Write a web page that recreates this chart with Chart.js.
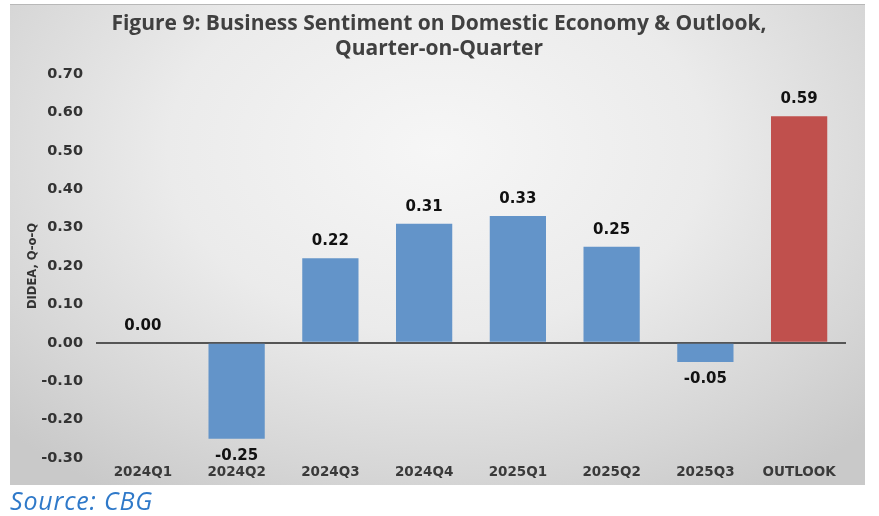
<!DOCTYPE html>
<html>
<head>
<meta charset="utf-8">
<script src="https://cdn.jsdelivr.net/npm/chart.js@4/dist/chart.umd.min.js"></script>
<style>
  html, body { margin: 0; padding: 0; background: #ffffff; width: 879px; height: 516px; overflow: hidden; }
  #panel {
    position: absolute; left: 10px; top: 4px; width: 855px; height: 481px;
    background: radial-gradient(ellipse 70% 85% at 50% 30%, #f6f6f6 0%, #ebebeb 45%, #d6d6d6 80%, #c9c9c9 100%);
    border-top: 1px solid #b8b8b8;
    box-sizing: border-box;
  }
  #title {
    position: absolute; left: 0; top: 5px; width: 858px; text-align: center;
    font-family: "Open Sans", sans-serif; font-weight: 700; font-size: 21px; line-height: 25px;
    color: #404040;
  }
  #chartbox { position: absolute; left: 0; top: 0; width: 855px; height: 481px; }
  #source {
    position: absolute; left: 10px; top: 483px;
    font-family: "Open Sans", sans-serif; font-style: italic; font-size: 25px; letter-spacing: 0.8px; color: #2f79c9;
  }
</style>
</head>
<body>
<div id="panel">
  <div id="chartbox"><canvas id="c" width="855" height="481"></canvas></div>
  <div id="title">Figure 9: Business Sentiment on Domestic Economy &amp; Outlook,<br>Quarter-on-Quarter</div>
</div>
<div id="source">Source: CBG</div>
<script>
const categories = ["2024Q1", "2024Q2", "2024Q3", "2024Q4", "2025Q1", "2025Q2", "2025Q3", "OUTLOOK"];
const values = [0.00, -0.25, 0.22, 0.31, 0.33, 0.25, -0.05, 0.59];
const barColors = ["#6394c9", "#6394c9", "#6394c9", "#6394c9", "#6394c9", "#6394c9", "#6394c9", "#c0504d"];
const yTitle = "DIDEA, Q-o-Q";
const yMin = -0.3, yMax = 0.7, yStep = 0.1;

const valueLabels = {
  id: 'valueLabels',
  afterDatasetsDraw(chart) {
    const ctx = chart.ctx;
    const meta = chart.getDatasetMeta(0);
    ctx.save();
    ctx.font = "bold 15px 'DejaVu Sans', sans-serif";
    ctx.fillStyle = "#111111";
    ctx.textAlign = "center";
    ctx.textBaseline = "middle";
    meta.data.forEach((bar, i) => {
      const v = values[i];
      const y = v >= 0 ? bar.y - 17 : bar.y + 17;
      ctx.fillText(v.toFixed(2), bar.x, y);
    });
    ctx.restore();
  }
};

new Chart(document.getElementById('c'), {
  type: 'bar',
  data: {
    labels: categories,
    datasets: [{
      data: values,
      backgroundColor: barColors,
      borderWidth: 0,
      categoryPercentage: 1.0,
      barPercentage: 0.6
    }]
  },
  options: {
    responsive: false,
    animation: false,
    layout: { padding: { top: 69, right: 19, left: 0, bottom: 0 } },
    plugins: { legend: { display: false }, tooltip: { enabled: false }, title: { display: false } },
    scales: {
      x: {
        grid: { display: false, drawTicks: false },
        border: { display: false },
        ticks: {
          color: "#3a3a3a",
          font: { family: "'DejaVu Sans', sans-serif", weight: 'bold', size: 13.5 },
          padding: 6,
          maxRotation: 0
        },
        afterFit(scale) { scale.height = 28; }
      },
      y: {
        min: yMin, max: yMax,
        grid: {
          drawTicks: false,
          color: (c) => (c.tick && Math.abs(c.tick.value) < 1e-9) ? "#555555" : "rgba(0,0,0,0)",
          lineWidth: (c) => (c.tick && Math.abs(c.tick.value) < 1e-9) ? 2 : 0
        },
        border: { display: false },
        ticks: {
          stepSize: yStep,
          color: "#333333",
          font: { family: "'DejaVu Sans', sans-serif", weight: 'bold', size: 14.5 },
          padding: 13,
          callback: (v) => Number(v).toFixed(2)
        },
        title: {
          display: true,
          text: yTitle,
          color: "#333333",
          font: { family: "'DejaVu Sans', sans-serif", weight: 'bold', size: 11.5 },
          padding: { top: 16, bottom: 0 }
        },
        afterFit(scale) { scale.width = 86; }
      }
    }
  },
  plugins: [valueLabels]
});
</script>
</body>
</html>
